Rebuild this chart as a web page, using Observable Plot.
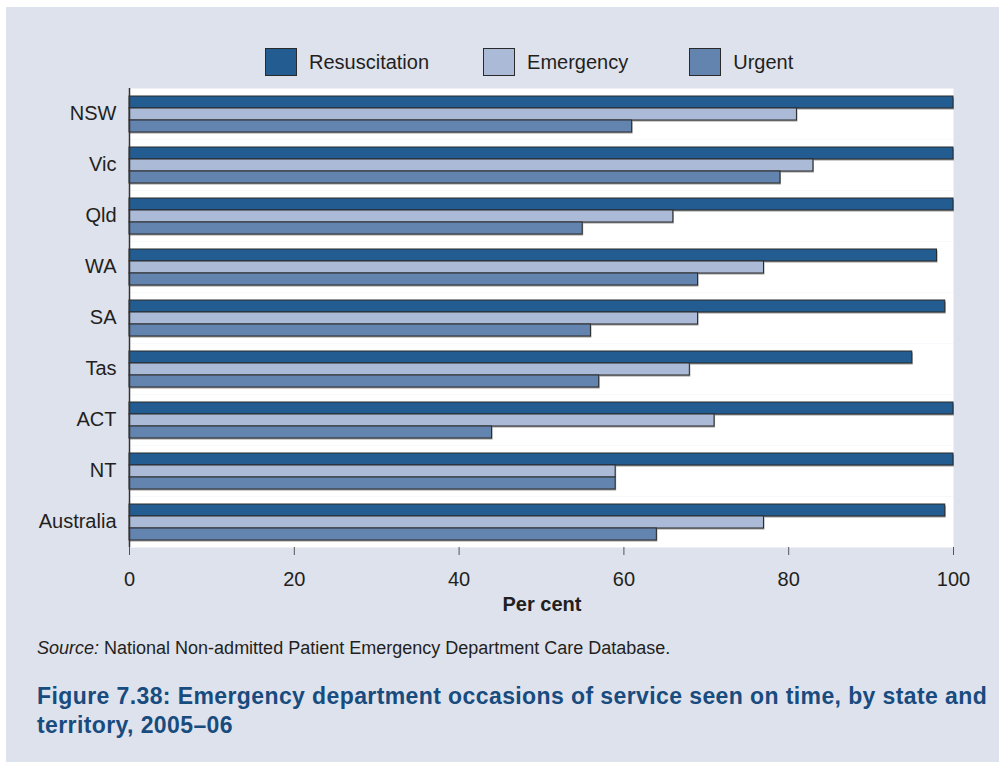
<!DOCTYPE html>
<html>
<head>
<meta charset="utf-8">
<script src="https://cdn.jsdelivr.net/npm/d3@7"></script>
<script src="https://cdn.jsdelivr.net/npm/@observablehq/plot@0.6"></script>
<style>
  html, body { margin: 0; padding: 0; background: #ffffff; }
  body { width: 999px; height: 762px; position: relative; overflow: hidden; font-family: "Liberation Sans", Arial, Helvetica, sans-serif; }
  #panel { position: absolute; left: 6px; top: 7px; width: 993px; height: 755px; background: #dee2ed; }
  #legend { position: absolute; left: 265px; top: 48px; display: flex; align-items: center; font-size: 20px; color: #231f20; }
  #legend .item { display: flex; align-items: center; }
  #legend .sw { width: 30px; height: 26px; border: 1px solid #2a2a2a; margin-right: 12px; }
  #chart { position: absolute; left: 0; top: 70px; }
  #xlabel { position: absolute; left: 502px; width: 80px; text-align: center; top: 593px; font-size: 20px; font-weight: bold; color: #231f20; white-space: nowrap; }
  #source { position: absolute; left: 37px; top: 638px; font-size: 18px; color: #231f20; white-space: nowrap; }
  #title { position: absolute; left: 37px; top: 682px; width: 960px; font-size: 23px; letter-spacing: 0.4px; font-weight: bold; line-height: 29px; color: #184b7e; }
</style>
</head>
<body>
<div id="panel"></div>
<div id="legend"></div>
<div id="chart"></div>
<div id="xlabel">Per cent</div>
<div id="source"><i>Source:</i> National Non-admitted Patient Emergency Department Care Database.</div>
<div id="title">Figure 7.38: Emergency department occasions of service seen on time, by state and territory, 2005–06</div>
<script>
const states = ["NSW", "Vic", "Qld", "WA", "SA", "Tas", "ACT", "NT", "Australia"];
const series = ["Resuscitation", "Emergency", "Urgent"];
const colors = ["#235c91", "#aabad7", "#6484b0"];
const resuscitation = [100, 100, 100, 98, 99, 95, 100, 100, 99];
const emergency = [81, 83, 66, 77, 69, 68, 71, 59, 77];
const urgent = [61, 79, 55, 69, 56, 57, 44, 59, 64];
const xTicks = [0, 20, 40, 60, 80, 100];

const values = [resuscitation, emergency, urgent];
const data = [];
states.forEach((s, i) => series.forEach((k, j) => data.push({state: s, series: k, value: values[j][i]})));

// legend
const legendGaps = [54, 61, 0];
const legend = document.getElementById("legend");
series.forEach((k, j) => {
  const item = document.createElement("div");
  item.className = "item";
  item.style.marginRight = legendGaps[j] + "px";
  const sw = document.createElement("div");
  sw.className = "sw";
  sw.style.background = colors[j];
  const t = document.createElement("span");
  t.textContent = k;
  item.appendChild(sw);
  item.appendChild(t);
  legend.appendChild(item);
});

const chart = Plot.plot({
  width: 999,
  height: 550,
  marginLeft: 129,
  marginRight: 46,
  marginTop: 16,
  marginBottom: 72,
  style: {background: "transparent", fontSize: "20px", fontFamily: "'Liberation Sans', Arial, sans-serif", color: "#231f20", overflow: "visible"},
  x: {domain: [0, 100], ticks: xTicks, label: null, line: false},
  y: {domain: series, axis: null, paddingInner: 0, paddingOuter: 0.62},
  fy: {domain: states, padding: 0, label: null, tickSize: 0, tickPadding: 13},
  color: {domain: series, range: colors},
  marks: [
    Plot.frame({fill: "white", stroke: null}),
    Plot.barX(data, {x: "value", y: "series", fy: "state", fill: "#9b9b9b", dx: 1, dy: 1.5}),
    Plot.barX(data, {x: "value", y: "series", fy: "state", fill: "series", stroke: "#2a2a2a", strokeWidth: 1}),
    Plot.ruleX([0], {stroke: "#333", strokeWidth: 1.5}),
    Plot.axisX({ticks: xTicks, tickSize: 8, tickPadding: 16, label: null, stroke: "#555", fontSize: 20}),
    Plot.ruleY([0], {frameAnchor: "bottom", stroke: "#555", facet: "exclude"})
  ]
});
document.getElementById("chart").appendChild(chart);
</script>
</body>
</html>
